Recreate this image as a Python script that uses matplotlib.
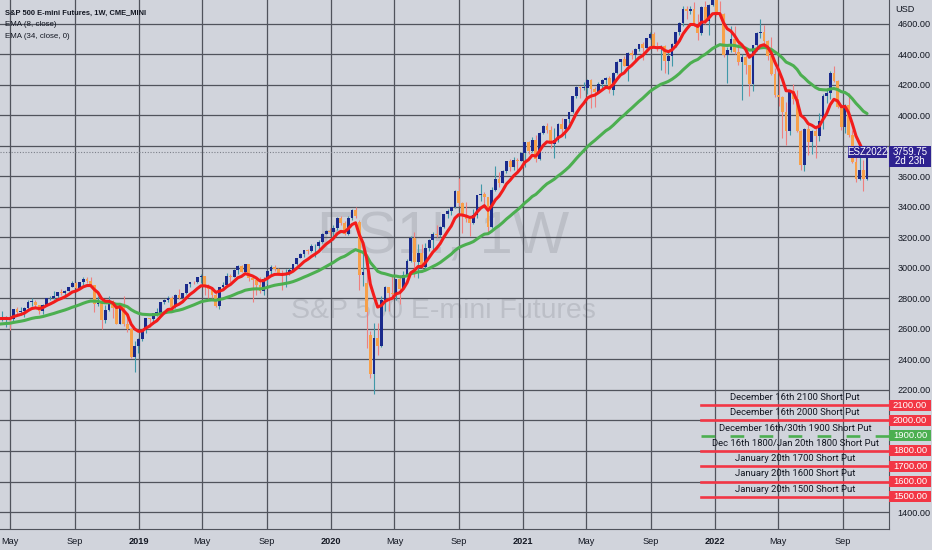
import matplotlib
matplotlib.use('Agg')
import matplotlib.pyplot as plt
import matplotlib.dates as mdates
from matplotlib.patches import Rectangle
from matplotlib.transforms import blended_transform_factory
import numpy as np
import pandas as pd

# ---- data -------------------------------------------------------------
# weekly closes Jan 2017 - Apr 2018 (off screen, only to warm up the EMAs)
warmup_close = [2277, 2275, 2271, 2295, 2297, 2316, 2351, 2367, 2383, 2373,
                2378, 2344, 2363, 2355, 2329, 2349, 2384, 2399, 2391, 2382,
                2416, 2439, 2432, 2433, 2438, 2423, 2425, 2459, 2473, 2472,
                2477, 2441, 2426, 2443, 2477, 2461, 2500, 2502, 2519, 2549,
                2553, 2575, 2581, 2588, 2582, 2579, 2602, 2642, 2652, 2675,
                2683, 2674, 2743, 2786, 2810, 2873, 2762, 2620, 2732, 2747,
                2691, 2786, 2752, 2588, 2641, 2604, 2656]

# visible weekly bars, week of 2018-04-16 .. week of 2022-10-17
opens = [
    # 2018
    2656, 2670, 2670, 2663, 2728, 2712, 2721, 2735, 2779, 2780, 2755, 2718, 2760,
    2801, 2802, 2819, 2840, 2833, 2850, 2875, 2902, 2872, 2905, 2930, 2914, 2886,
    2767, 2768, 2659, 2723, 2781, 2736, 2633, 2760, 2633, 2600, 2417, 2486,
    # 2019
    2532, 2596, 2671, 2665, 2707, 2708, 2776, 2793, 2804, 2743, 2822, 2801, 2834,
    2893, 2907, 2905, 2940, 2946, 2881, 2860, 2826, 2752, 2873, 2887, 2950, 2942,
    2990, 3014, 2977, 3026, 2932, 2919, 2889, 2847, 2926, 2979, 3007, 2992, 2962,
    2952, 2970, 2986, 3023, 3067, 3093, 3120, 3110, 3141, 3146, 3169, 3221, 3240,
    # 2020
    3235, 3265, 3330, 3295, 3226, 3328, 3380, 3300, 2954, 2900, 2560, 2305, 2541,
    2489, 2790, 2875, 2837, 2831, 2930, 2864, 2955, 3044, 3194, 3041, 3098, 3009,
    3130, 3185, 3225, 3216, 3271, 3351, 3373, 3397, 3508, 3427, 3341, 3319, 3298,
    3348, 3477, 3484, 3465, 3270, 3510, 3585, 3558, 3638, 3699, 3663, 3709, 3703,
    # 2021
    3756, 3825, 3768, 3841, 3714, 3887, 3934, 3907, 3811, 3842, 3943, 3913, 3975,
    4020, 4129, 4185, 4180, 4181, 4233, 4174, 4156, 4204, 4230, 4247, 4166, 4281,
    4352, 4370, 4327, 4412, 4395, 4437, 4468, 4442, 4509, 4535, 4459, 4433, 4455,
    4357, 4391, 4471, 4545, 4605, 4697, 4683, 4698, 4595, 4538, 4712, 4620, 4726,
    # 2022
    4766, 4677, 4663, 4398, 4432, 4500, 4419, 4349, 4385, 4329, 4204, 4463, 4543,
    4546, 4488, 4393, 4272, 4132, 4123, 4024, 3901, 4158, 4109, 3901, 3675, 3912,
    3825, 3899, 3863, 3962, 4130, 4145, 4280, 4228, 4058, 3924, 4067, 3873, 3693,
    3586, 3640, 3583]
highs = [
    2717, 2683, 2677, 2733, 2743, 2743, 2741, 2791, 2801, 2790, 2760, 2764, 2804,
    2816, 2848, 2841, 2865, 2855, 2877, 2916, 2906, 2908, 2941, 2940, 2940, 2891,
    2816, 2782, 2756, 2815, 2787, 2747, 2763, 2815, 2685, 2605, 2520, 2538,
    2598, 2675, 2672, 2708, 2738, 2778, 2798, 2816, 2818, 2830, 2862, 2838, 2896,
    2911, 2918, 2942, 2958, 2946, 2894, 2877, 2845, 2877, 2911, 2965, 2960, 2996,
    3017, 3018, 3029, 3029, 2945, 2942, 2939, 2940, 2985, 3021, 3022, 3003, 2984,
    2993, 3000, 3027, 3068, 3098, 3121, 3127, 3158, 3155, 3183, 3229, 3249, 3260,
    3282, 3334, 3340, 3306, 3338, 3385, 3397, 3315, 3136, 2977, 2590, 2637, 2640,
    2818, 2880, 2875, 2955, 2930, 2955, 2980, 3062, 3210, 3233, 3155, 3155, 3165,
    3190, 3235, 3280, 3278, 3353, 3388, 3400, 3510, 3588, 3430, 3430, 3320, 3390,
    3480, 3550, 3500, 3465, 3530, 3670, 3630, 3645, 3700, 3712, 3727, 3720, 3760,
    3826, 3830, 3860, 3870, 3890, 3938, 3950, 3928, 3915, 3950, 3983, 3978, 4025,
    4131, 4191, 4194, 4218, 4238, 4238, 4187, 4218, 4237, 4250, 4256, 4285, 4356,
    4372, 4393, 4415, 4430, 4440, 4470, 4480, 4510, 4545, 4550, 4485, 4465, 4465,
    4430, 4475, 4550, 4610, 4715, 4718, 4720, 4743, 4665, 4715, 4750, 4730, 4800,
    4816, 4748, 4670, 4450, 4590, 4590, 4480, 4400, 4400, 4330, 4465, 4545, 4635,
    4595, 4495, 4515, 4310, 4300, 4130, 4090, 4160, 4205, 4170, 3905, 3915, 3950,
    3905, 3920, 4015, 4140, 4170, 4290, 4325, 4235, 4075, 4075, 4150, 3905, 3740,
    3825, 3710, 3770]
lows = [
    2652, 2612, 2594, 2655, 2701, 2690, 2676, 2734, 2752, 2742, 2699, 2699, 2759,
    2788, 2796, 2796, 2826, 2802, 2847, 2875, 2864, 2868, 2886, 2903, 2874, 2710,
    2754, 2603, 2642, 2716, 2671, 2631, 2631, 2621, 2583, 2408, 2316, 2443,
    2524, 2572, 2613, 2631, 2682, 2701, 2763, 2775, 2729, 2738, 2798, 2786, 2830,
    2874, 2893, 2899, 2901, 2826, 2801, 2805, 2747, 2728, 2857, 2880, 2910, 2941,
    2963, 2973, 2973, 2914, 2776, 2823, 2835, 2825, 2893, 2955, 2980, 2952, 2855,
    2873, 2952, 2980, 3018, 3063, 3075, 3089, 3107, 3070, 3122, 3167, 3220, 3211,
    3181, 3252, 3280, 3214, 3214, 3317, 3328, 2855, 2885, 2478, 2280, 2174, 2430,
    2480, 2720, 2720, 2800, 2790, 2765, 2860, 2950, 3040, 2940, 2933, 2999, 2985,
    3110, 3116, 3200, 3200, 3260, 3325, 3350, 3395, 3405, 3230, 3300, 3210, 3290,
    3330, 3440, 3410, 3233, 3260, 3505, 3530, 3555, 3625, 3633, 3640, 3636, 3700,
    3663, 3750, 3760, 3694, 3710, 3880, 3884, 3790, 3722, 3825, 3880, 3853, 3950,
    4015, 4118, 4118, 4165, 4140, 4050, 4055, 4150, 4165, 4205, 4150, 4135, 4275,
    4280, 4325, 4225, 4370, 4365, 4425, 4365, 4440, 4500, 4455, 4425, 4300, 4280,
    4275, 4325, 4450, 4530, 4590, 4630, 4665, 4585, 4495, 4530, 4600, 4525, 4720,
    4650, 4640, 4385, 4212, 4415, 4400, 4330, 4101, 4270, 4130, 4160, 4420, 4510,
    4445, 4365, 4265, 4120, 4060, 3855, 3807, 3875, 4073, 3895, 3640, 3635, 3740,
    3745, 3723, 3830, 3910, 4080, 4110, 4220, 4050, 3905, 3885, 3860, 3690, 3565,
    3575, 3502, 3580]
closes = [
    2670, 2670, 2663, 2728, 2712, 2721, 2735, 2779, 2780, 2755, 2718, 2760, 2801,
    2802, 2819, 2840, 2833, 2850, 2875, 2902, 2872, 2905, 2930, 2914, 2886, 2767,
    2768, 2659, 2723, 2781, 2736, 2633, 2760, 2633, 2600, 2417, 2486, 2532,
    2596, 2671, 2665, 2707, 2708, 2776, 2793, 2804, 2743, 2822, 2801, 2834, 2893,
    2907, 2905, 2940, 2946, 2881, 2860, 2826, 2752, 2873, 2887, 2950, 2942, 2990,
    3014, 2977, 3026, 2932, 2919, 2889, 2847, 2926, 2979, 3007, 2992, 2962, 2952,
    2970, 2986, 3023, 3067, 3093, 3120, 3110, 3141, 3146, 3169, 3221, 3240, 3235,
    3265, 3330, 3295, 3226, 3328, 3380, 3338, 2954, 2972, 2711, 2305, 2541, 2489,
    2790, 2875, 2837, 2831, 2930, 2864, 2955, 3044, 3194, 3041, 3098, 3009, 3130,
    3185, 3225, 3216, 3271, 3351, 3373, 3397, 3508, 3427, 3341, 3319, 3298, 3348,
    3477, 3484, 3465, 3270, 3510, 3585, 3558, 3638, 3699, 3663, 3709, 3703, 3756,
    3825, 3768, 3841, 3714, 3887, 3934, 3907, 3811, 3842, 3943, 3913, 3975, 4020,
    4129, 4185, 4180, 4181, 4233, 4174, 4156, 4204, 4230, 4247, 4166, 4281, 4352,
    4370, 4327, 4412, 4395, 4437, 4468, 4442, 4509, 4535, 4459, 4433, 4455, 4357,
    4391, 4471, 4545, 4605, 4697, 4683, 4698, 4595, 4538, 4712, 4620, 4726, 4766,
    4677, 4663, 4398, 4432, 4500, 4419, 4349, 4385, 4329, 4204, 4463, 4543, 4546,
    4488, 4393, 4272, 4132, 4123, 4024, 3901, 4158, 4109, 3901, 3675, 3912, 3825,
    3899, 3863, 3962, 4130, 4145, 4280, 4228, 4058, 3924, 4067, 3873, 3693, 3586,
    3640, 3583, 3760]
assert len(opens) == len(highs) == len(lows) == len(closes)

last_price = 3759.75
time_left = '2d 23h'
contract = 'ESZ2022'

put_levels = [2100, 2000, 1900, 1800, 1700, 1600, 1500]
put_labels = ['December 16th 2100 Short Put',
              'December 16th 2000 Short Put',
              'December 16th/30th 1900 Short Put',
              'Dec 16th 1800/Jan 20th 1800 Short Put',
              'January 20th 1700 Short Put',
              'January 20th 1600 Short Put',
              'January 20th 1500 Short Put']
put_dashed = [False, False, True, False, False, False, False]

month_ticks = ['2018-05-01', '2018-09-01', '2019-01-01', '2019-05-01', '2019-09-01',
               '2020-01-01', '2020-05-01', '2020-09-01', '2021-01-01', '2021-05-01',
               '2021-09-01', '2022-01-01', '2022-05-01', '2022-09-01']
month_labels = ['May', 'Sep', '2019', 'May', 'Sep', '2020', 'May', 'Sep',
                '2021', 'May', 'Sep', '2022', 'May', 'Sep']
price_ticks = list(range(1400, 4601, 200))

# ---- style ------------------------------------------------------------
BG = '#d1d4dc'
GRID = '#50535c'
TXT = '#131722'
UP_BODY, UP_WICK = '#1a2a8c', '#3f98a8'
DN_BODY, DN_WICK = '#f7a04a', '#ef7f7f'
RED, GREEN, TAG = '#f23645', '#4caf50', '#2e2290'
NARROW = ['Liberation Sans Narrow', 'Liberation Sans', 'DejaVu Sans']

W, H = 932, 550
AX_W, AX_H = 889, 529

# ---- series -----------------------------------------------------------
all_close = pd.Series(warmup_close + closes, dtype=float)
weeks = pd.date_range(end='2022-10-17', periods=len(all_close), freq='W-MON')
ema8 = all_close.ewm(span=8, adjust=False).mean()
ema34 = all_close.ewm(span=34, adjust=False).mean()

nw = len(warmup_close)
x = mdates.date2num(weeks[nw:])
o = np.array(opens, float)
h = np.array(highs, float)
l = np.array(lows, float)
c = np.array(closes, float)

fig = plt.figure(figsize=(W / 100, H / 100), dpi=100)
fig.patch.set_facecolor(BG)
ax = fig.add_axes([0, (H - AX_H) / H, AX_W / W, AX_H / H])
ax.set_facecolor(BG)

# axis scales: 4600 at 24px, 1400 at 512px from top; 2019 at x=139, 192 px/year
ppu = (512 - 24) / 3200.0
ax.set_ylim(1400 - (AX_H - 512) / ppu, 4600 + 24 / ppu)
day_px = 192 / 365.25
x0 = mdates.date2num(pd.Timestamp('2019-01-01')) - 139 / day_px
ax.set_xlim(x0, x0 + AX_W / day_px)

# price tags on the axis hide the tick labels they sit on
covered = set(put_levels) | {3800}
ax.set_yticks(price_ticks)
ax.set_yticklabels(['' if v in covered else '%.2f' % v for v in price_ticks])
ax.yaxis.tick_right()
ax.set_xticks(mdates.date2num(pd.to_datetime(month_ticks)))
ax.set_xticklabels(month_labels)
ax.tick_params(axis='both', length=0, labelsize=6.6, labelcolor=TXT)
ax.tick_params(axis='y', pad=6)
ax.tick_params(axis='x', pad=6)
for t in ax.get_xticklabels() + ax.get_yticklabels():
    t.set_family(NARROW)
for t, s in zip(ax.get_xticklabels(), month_labels):
    if s.isdigit():
        t.set_fontweight('bold')

ax.grid(True, color=GRID, lw=0.9, zorder=0)
ax.set_axisbelow(True)
for s in ['top', 'left']:
    ax.spines[s].set_visible(False)
ax.spines['right'].set_color(GRID)
ax.spines['bottom'].set_color(GRID)

# watermark
ax.text(0.498, 1 - 238 / AX_H, 'ES1!, 1W', transform=ax.transAxes, ha='center', va='center',
        fontsize=43, color='#bcbfc7', family=NARROW, zorder=0.5)
ax.text(0.499, 1 - 311 / AX_H, 'S&P 500 E-mini Futures', transform=ax.transAxes,
        ha='center', va='center', fontsize=20.5, color='#bcbfc7',
        family=['Liberation Sans', 'DejaVu Sans'], zorder=0.5)

# candles
up = c >= o
body_w = 5.3
for m, bc, wc in [(up, UP_BODY, UP_WICK), (~up, DN_BODY, DN_WICK)]:
    ax.vlines(x[m], l[m], h[m], color=wc, lw=0.8, zorder=2)
    ax.bar(x[m], np.maximum(np.abs(c[m] - o[m]), 4), bottom=np.minimum(o[m], c[m]),
           width=body_w, color=bc, lw=0, zorder=3)

# EMAs
xe = mdates.date2num(weeks)
ax.plot(xe, ema34, color=GREEN, lw=2.2, zorder=4, solid_capstyle='round')
ax.plot(xe, ema8, color='#f21c1c', lw=2.2, zorder=5, solid_capstyle='round')

# last price line and tags
ax.axhline(last_price, color='#7c808a', lw=0.8, ls=(0, (1, 1.5)), zorder=1.5)
bt = blended_transform_factory(ax.transAxes, ax.transData)
ax.add_patch(Rectangle((848 / AX_W, last_price - 6 / ppu), 39 / AX_W, 12 / ppu,
                       transform=bt, fc=TAG, ec='none', zorder=7, clip_on=False))
ax.text(867.5 / AX_W, last_price, contract, transform=bt, ha='center', va='center',
        color='white', fontsize=7, family=NARROW, zorder=8)
ax.add_patch(Rectangle((1.0, last_price - 15 / ppu), 42 / AX_W, 21 / ppu,
                       transform=bt, fc=TAG, ec='none', zorder=7, clip_on=False))
ax.text(910 / AX_W, last_price, '%.2f' % last_price, transform=bt, ha='center',
        va='center', color='white', fontsize=7, family=NARROW, zorder=8, clip_on=False)
ax.text(910 / AX_W, last_price - 9 / ppu, time_left, transform=bt, ha='center',
        va='center', color='white', fontsize=7, family=NARROW, zorder=8, clip_on=False)

# short put levels
for lev, lab, dashed in zip(put_levels, put_labels, put_dashed):
    col = GREEN if dashed else RED
    ls = (0, (5.2, 5.8)) if dashed else '-'
    ax.axhline(lev, xmin=701 / AX_W, xmax=1.0, color=col, lw=1.9, ls=ls, zorder=6)
    ax.text(795 / AX_W, lev + 7.5 / ppu, lab, transform=bt, ha='center', va='center',
            fontsize=6.8, color=TXT, family=['Roboto', 'DejaVu Sans'], zorder=6)
    ax.add_patch(Rectangle((1.0, lev - 5.5 / ppu), 42 / AX_W, 11 / ppu, transform=bt,
                           fc=col, ec='none', zorder=7, clip_on=False))
    ax.text(910 / AX_W, lev, '%.2f' % lev, transform=bt, ha='center', va='center',
            color='white', fontsize=6.8, family=NARROW, zorder=8, clip_on=False)

# header texts
fig.text(895 / W, 1 - 10 / H, 'USD', fontsize=6.6, color=TXT, va='center', family=NARROW)
fig.text(5 / W, 1 - 13 / H, 'S&P 500 E-mini Futures, 1W, CME_MINI', fontsize=5.4,
         fontweight='bold', color=TXT, va='center', family=NARROW)
fig.text(5 / W, 1 - 25 / H, 'EMA (8, close)', fontsize=5.7, color=TXT, va='center',
         family=NARROW)
fig.text(5 / W, 1 - 36 / H, 'EMA (34, close, 0)', fontsize=5.7, color=TXT, va='center',
         family=NARROW)

fig.savefig('out.png', dpi=100, facecolor=BG)
